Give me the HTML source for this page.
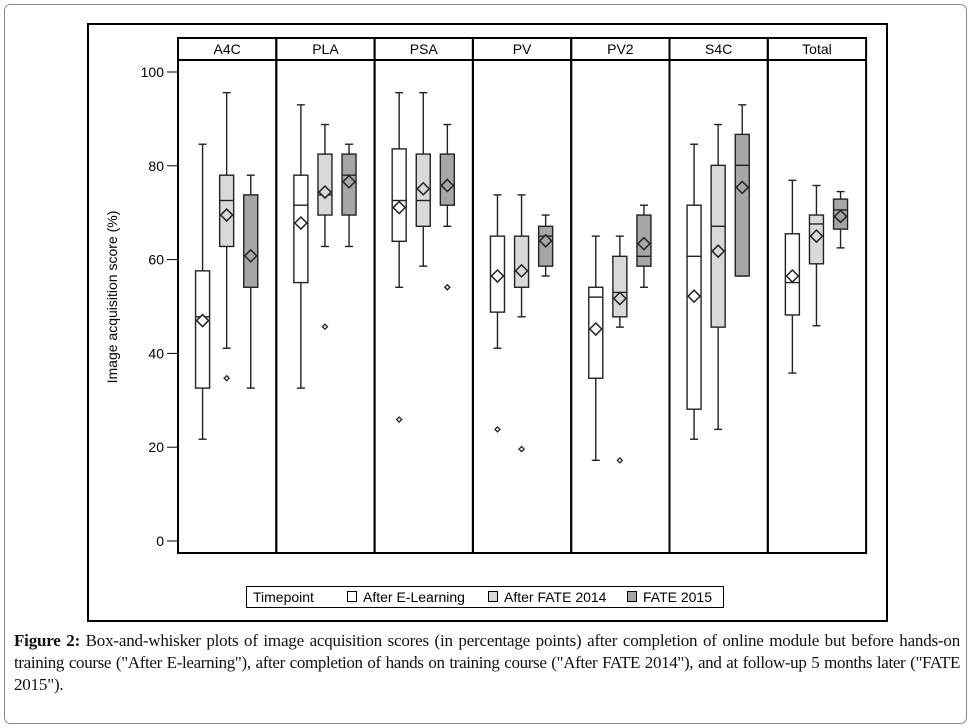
<!DOCTYPE html>
<html><head><meta charset="utf-8"><style>
body{margin:0;background:#fff;width:971px;height:728px;overflow:hidden}
svg{display:block}
.cap{position:absolute;left:14px;top:630px;width:946px;font-family:"Liberation Serif",serif;font-size:17px;line-height:22px;color:#111;letter-spacing:-0.2px;white-space:nowrap}
.cap span.j{display:block;text-align:justify;text-align-last:justify}
.cap span.t{letter-spacing:-0.35px}
.cap span.l{display:block}
</style></head><body>
<svg width="971" height="728" id="chart" xmlns="http://www.w3.org/2000/svg" font-family="Liberation Sans, sans-serif">
<rect x="4.5" y="4.5" width="962" height="719" rx="6" fill="none" stroke="#888" stroke-width="1"/>
<rect x="88" y="24" width="799" height="597" fill="none" stroke="#000" stroke-width="2"/>
<g id="g"></g>
<text transform="translate(117,297) rotate(-90)" text-anchor="middle" font-size="14">Image acquisition score (%)</text>
<g>
<rect x="246.5" y="586.5" width="477" height="21" fill="#fff" stroke="#000"/>
<text x="253" y="602" font-size="14">Timepoint</text>
<rect x="347.5" y="591.5" width="9" height="10" fill="#fff" stroke="#000"/>
<text x="363" y="602" font-size="14">After E-Learning</text>
<rect x="488.5" y="591.5" width="9" height="10" fill="#d9d9d9" stroke="#000"/>
<text x="504" y="602" font-size="14">After FATE 2014</text>
<rect x="627.5" y="591.5" width="9" height="10" fill="#a6a6a6" stroke="#000"/>
<text x="643" y="602" font-size="14">FATE 2015</text>
</g>
</svg>
<div class="cap"><span class="j"><b>Figure 2:</b> Box-and-whisker plots of image acquisition scores (in percentage points) after completion of online module but before hands-on</span><span class="j t">training course ("After E-learning"), after completion of hands on training course ("After FATE 2014"), and at follow-up 5 months later ("FATE</span><span class="l">2015").</span></div>
<script>
const panels=["A4C","PLA","PSA","PV","PV2","S4C","Total"];
const yTicks=[0,20,40,60,80,100];
// per panel, per series: [low, q1, median, q3, high]
const boxStats=[
 [[21.7,32.6,47.8,57.6,84.6],[41.1,62.8,72.6,78,95.6],[32.6,54.1,60.8,73.8,78]],
 [[32.6,55.1,71.6,78,93],[62.8,69.5,73.8,82.5,88.8],[62.8,69.5,78,82.5,84.6]],
 [[54.1,63.9,72.6,83.6,95.6],[58.6,67.1,72.6,82.5,95.6],[67.1,71.6,75.8,82.5,88.8]],
 [[41.1,48.8,56.5,65,73.8],[47.8,54.1,57.6,65,73.8],[56.5,58.6,65,67.1,69.5]],
 [[17.2,34.7,52,54.1,65],[45.6,47.8,53,60.7,65],[54.1,58.6,60.7,69.5,71.6]],
 [[21.7,28.1,60.7,71.6,84.6],[23.8,45.6,67.1,80.1,88.8],[56.5,56.5,80.1,86.7,93]],
 [[35.8,48.2,55.1,65.5,76.9],[45.9,59.1,67.6,69.5,75.8],[62.5,66.5,70.6,72.9,74.5]]
];
const means=[[47,69.5,60.8],[67.8,74.4,76.6],[71.1,75.1,75.8],[56.5,57.6,64],[45.2,51.7,63.4],[52.2,61.8,75.4],[56.5,65,69.2]];
const outliers=[[[],[34.7],[]],[[],[45.7],[]],[[25.9],[],[54.1]],[[23.8],[19.6],[]],[[],[17.2],[]],[[],[],[]],[[],[],[]]];
const series=["After E-Learning","After FATE 2014","FATE 2015"];
const fills=["#ffffff","#d9d9d9","#a6a6a6"];
const NS="http://www.w3.org/2000/svg";
const L=178,PW=98.3,TOP=38,HB=60,BOT=553;
const y=v=>541-4.69*v;
const g=document.getElementById('g');
function mk(t,a,p){const e=document.createElementNS(NS,t);for(const k in a)e.setAttribute(k,a[k]);(p||g).appendChild(e);return e;}
function diamond(cx,cy,r,fill,sw,p){return mk('path',{d:`M${cx} ${cy-r}L${cx+r} ${cy}L${cx} ${cy+r}L${cx-r} ${cy}Z`,fill:fill,stroke:'#222','stroke-width':sw},p);}
const ax=mk('g',{});


yTicks.forEach(t=>{
 const ln=mk('line',{x1:167,x2:178,y1:y(t),y2:y(t),stroke:'#000'},ax);
 
 
 const tx=mk('text',{x:164,y:y(t)+5,'text-anchor':'end','font-size':14},ax);
 tx.textContent=t;
 
 
});
panels.forEach((name,i)=>{
 const x0=L+i*PW;
 const pg=mk('g',{});
 
 
 mk('rect',{x:x0,y:TOP,width:PW,height:BOT-TOP,fill:'none',stroke:'#000','stroke-width':2},pg);
 mk('line',{x1:x0,x2:x0+PW,y1:HB,y2:HB,stroke:'#000','stroke-width':2},pg);
 const ht=mk('text',{x:x0+PW/2,y:54,'text-anchor':'middle','font-size':14},pg);
 ht.textContent=name;
 
 
 boxStats[i].forEach((s,j)=>{
  const cx=x0+PW*(0.25+0.245*j),w=14;
  const bg=mk('g',{},pg);
  
  
  mk('line',{x1:cx,x2:cx,y1:y(s[4]),y2:y(s[0]),stroke:'#222','stroke-width':1.4},bg);
  mk('line',{x1:cx-4,x2:cx+4,y1:y(s[4]),y2:y(s[4]),stroke:'#222','stroke-width':1.4},bg);
  mk('line',{x1:cx-4,x2:cx+4,y1:y(s[0]),y2:y(s[0]),stroke:'#222','stroke-width':1.4},bg);
  mk('rect',{x:cx-w/2,y:y(s[3]),width:w,height:y(s[1])-y(s[3]),fill:fills[j],stroke:'#222','stroke-width':1.4},bg);
  mk('line',{x1:cx-w/2,x2:cx+w/2,y1:y(s[2]),y2:y(s[2]),stroke:'#222','stroke-width':1.4},bg);
  diamond(cx,y(means[i][j]),6,fills[j],1.5,bg);
  outliers[i][j].forEach(o=>diamond(cx,y(o),2.5,'#fff',1.3,bg));
 });
});
</script>
</body></html>
